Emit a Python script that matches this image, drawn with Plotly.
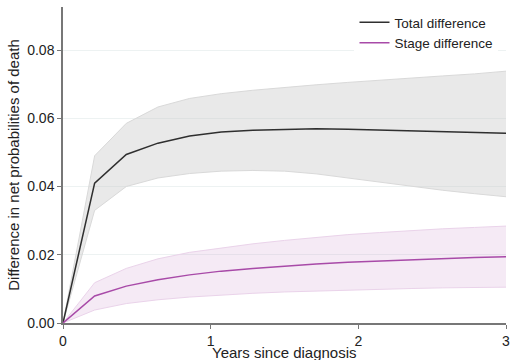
import plotly.graph_objects as go

years = [0, 0.2143, 0.4286, 0.6429, 0.8571, 1.0714, 1.2857, 1.5, 1.7143, 1.9286, 2.1429, 2.3571, 2.5714, 2.7857, 3.0]

total_mean = [0, 0.0410, 0.0494, 0.0527, 0.0548, 0.0560, 0.0565, 0.0568, 0.0569, 0.0568, 0.0566, 0.0564, 0.0561, 0.0558, 0.0556]
total_upper = [0, 0.0490, 0.0585, 0.0633, 0.0658, 0.0672, 0.0682, 0.0691, 0.0698, 0.0705, 0.0712, 0.0718, 0.0724, 0.0730, 0.0738]
total_lower = [0, 0.0330, 0.0400, 0.0425, 0.0438, 0.0445, 0.0447, 0.0445, 0.0437, 0.0425, 0.0412, 0.0400, 0.0389, 0.0379, 0.0370]

stage_mean = [0, 0.0079, 0.0108, 0.0127, 0.0141, 0.0152, 0.0160, 0.0167, 0.0173, 0.0178, 0.0182, 0.0186, 0.0189, 0.0192, 0.0194]
stage_upper = [0, 0.0118, 0.0160, 0.0188, 0.0207, 0.0220, 0.0232, 0.0242, 0.0251, 0.0259, 0.0265, 0.0271, 0.0276, 0.0280, 0.0284]
stage_lower = [0, 0.0038, 0.0057, 0.0068, 0.0076, 0.0082, 0.0087, 0.0091, 0.0094, 0.0097, 0.0099, 0.0101, 0.0103, 0.0104, 0.0105]

y_ticks = [0, 0.02, 0.04, 0.06, 0.08]
y_tick_labels = ["0.00", "0.02", "0.04", "0.06", "0.08"]
x_ticks = [0, 1, 2, 3]
x_tick_labels = ["0", "1", "2", "3"]
x_title = "Years since diagnosis"
y_title = "Difference in net probabilities of death"

fig = go.Figure()

# Total difference band
fig.add_trace(go.Scatter(x=years, y=total_upper, mode="lines",
                         line=dict(color="#d9d9d9", width=1), showlegend=False, hoverinfo="skip"))
fig.add_trace(go.Scatter(x=years, y=total_lower, mode="lines", fill="tonexty",
                         fillcolor="rgba(200,200,200,0.40)",
                         line=dict(color="#d9d9d9", width=1), showlegend=False, hoverinfo="skip"))
# Stage difference band
fig.add_trace(go.Scatter(x=years, y=stage_upper, mode="lines",
                         line=dict(color="#ead3ea", width=1), showlegend=False, hoverinfo="skip"))
fig.add_trace(go.Scatter(x=years, y=stage_lower, mode="lines", fill="tonexty",
                         fillcolor="rgba(200,140,200,0.18)",
                         line=dict(color="#ead3ea", width=1), showlegend=False, hoverinfo="skip"))

fig.add_trace(go.Scatter(x=years, y=total_mean, mode="lines", name="Total difference",
                         line=dict(color="#2f2f2f", width=1.5)))
fig.add_trace(go.Scatter(x=years, y=stage_mean, mode="lines", name="Stage difference",
                         line=dict(color="#a84aa8", width=1.5)))

font_family = "Liberation Sans, Arial, sans-serif"

fig.update_layout(
    width=511, height=360,
    margin=dict(l=63, r=5, t=7, b=37),
    paper_bgcolor="white", plot_bgcolor="white",
    font=dict(family=font_family, size=14, color="#222"),
    legend=dict(x=0.658, y=1.0, xanchor="left", yanchor="top",
                traceorder="normal",
                bgcolor="white", font=dict(size=13.5, color="#222"),
                tracegroupgap=0, itemwidth=30),
    xaxis=dict(range=[0, 3], tickvals=x_ticks, ticktext=x_tick_labels,
               showgrid=False, zeroline=False, showline=True, linecolor="#777", linewidth=1.5,
               ticks="outside", ticklen=4, tickcolor="#777",
               tickfont=dict(size=14), automargin=False),
    yaxis=dict(range=[0, 0.0926], tickvals=y_ticks, ticktext=y_tick_labels,
               showgrid=True, gridcolor="#edf2f2", gridwidth=1, zeroline=False,
               showline=True, linecolor="#777", linewidth=1.5,
               ticks="outside", ticklen=4, tickcolor="#777",
               title=dict(text=y_title, font=dict(size=15), standoff=4),
               tickfont=dict(size=14), automargin=False),
    annotations=[dict(text=x_title, xref="paper", yref="paper", x=0.5, y=-0.092,
                      xanchor="center", yanchor="middle", showarrow=False,
                      font=dict(size=15, color="#222"))],
)

fig.write_html("out.html", config={"displayModeBar": False},
               post_script="document.body.style.margin='0';document.body.style.overflow='hidden';")
